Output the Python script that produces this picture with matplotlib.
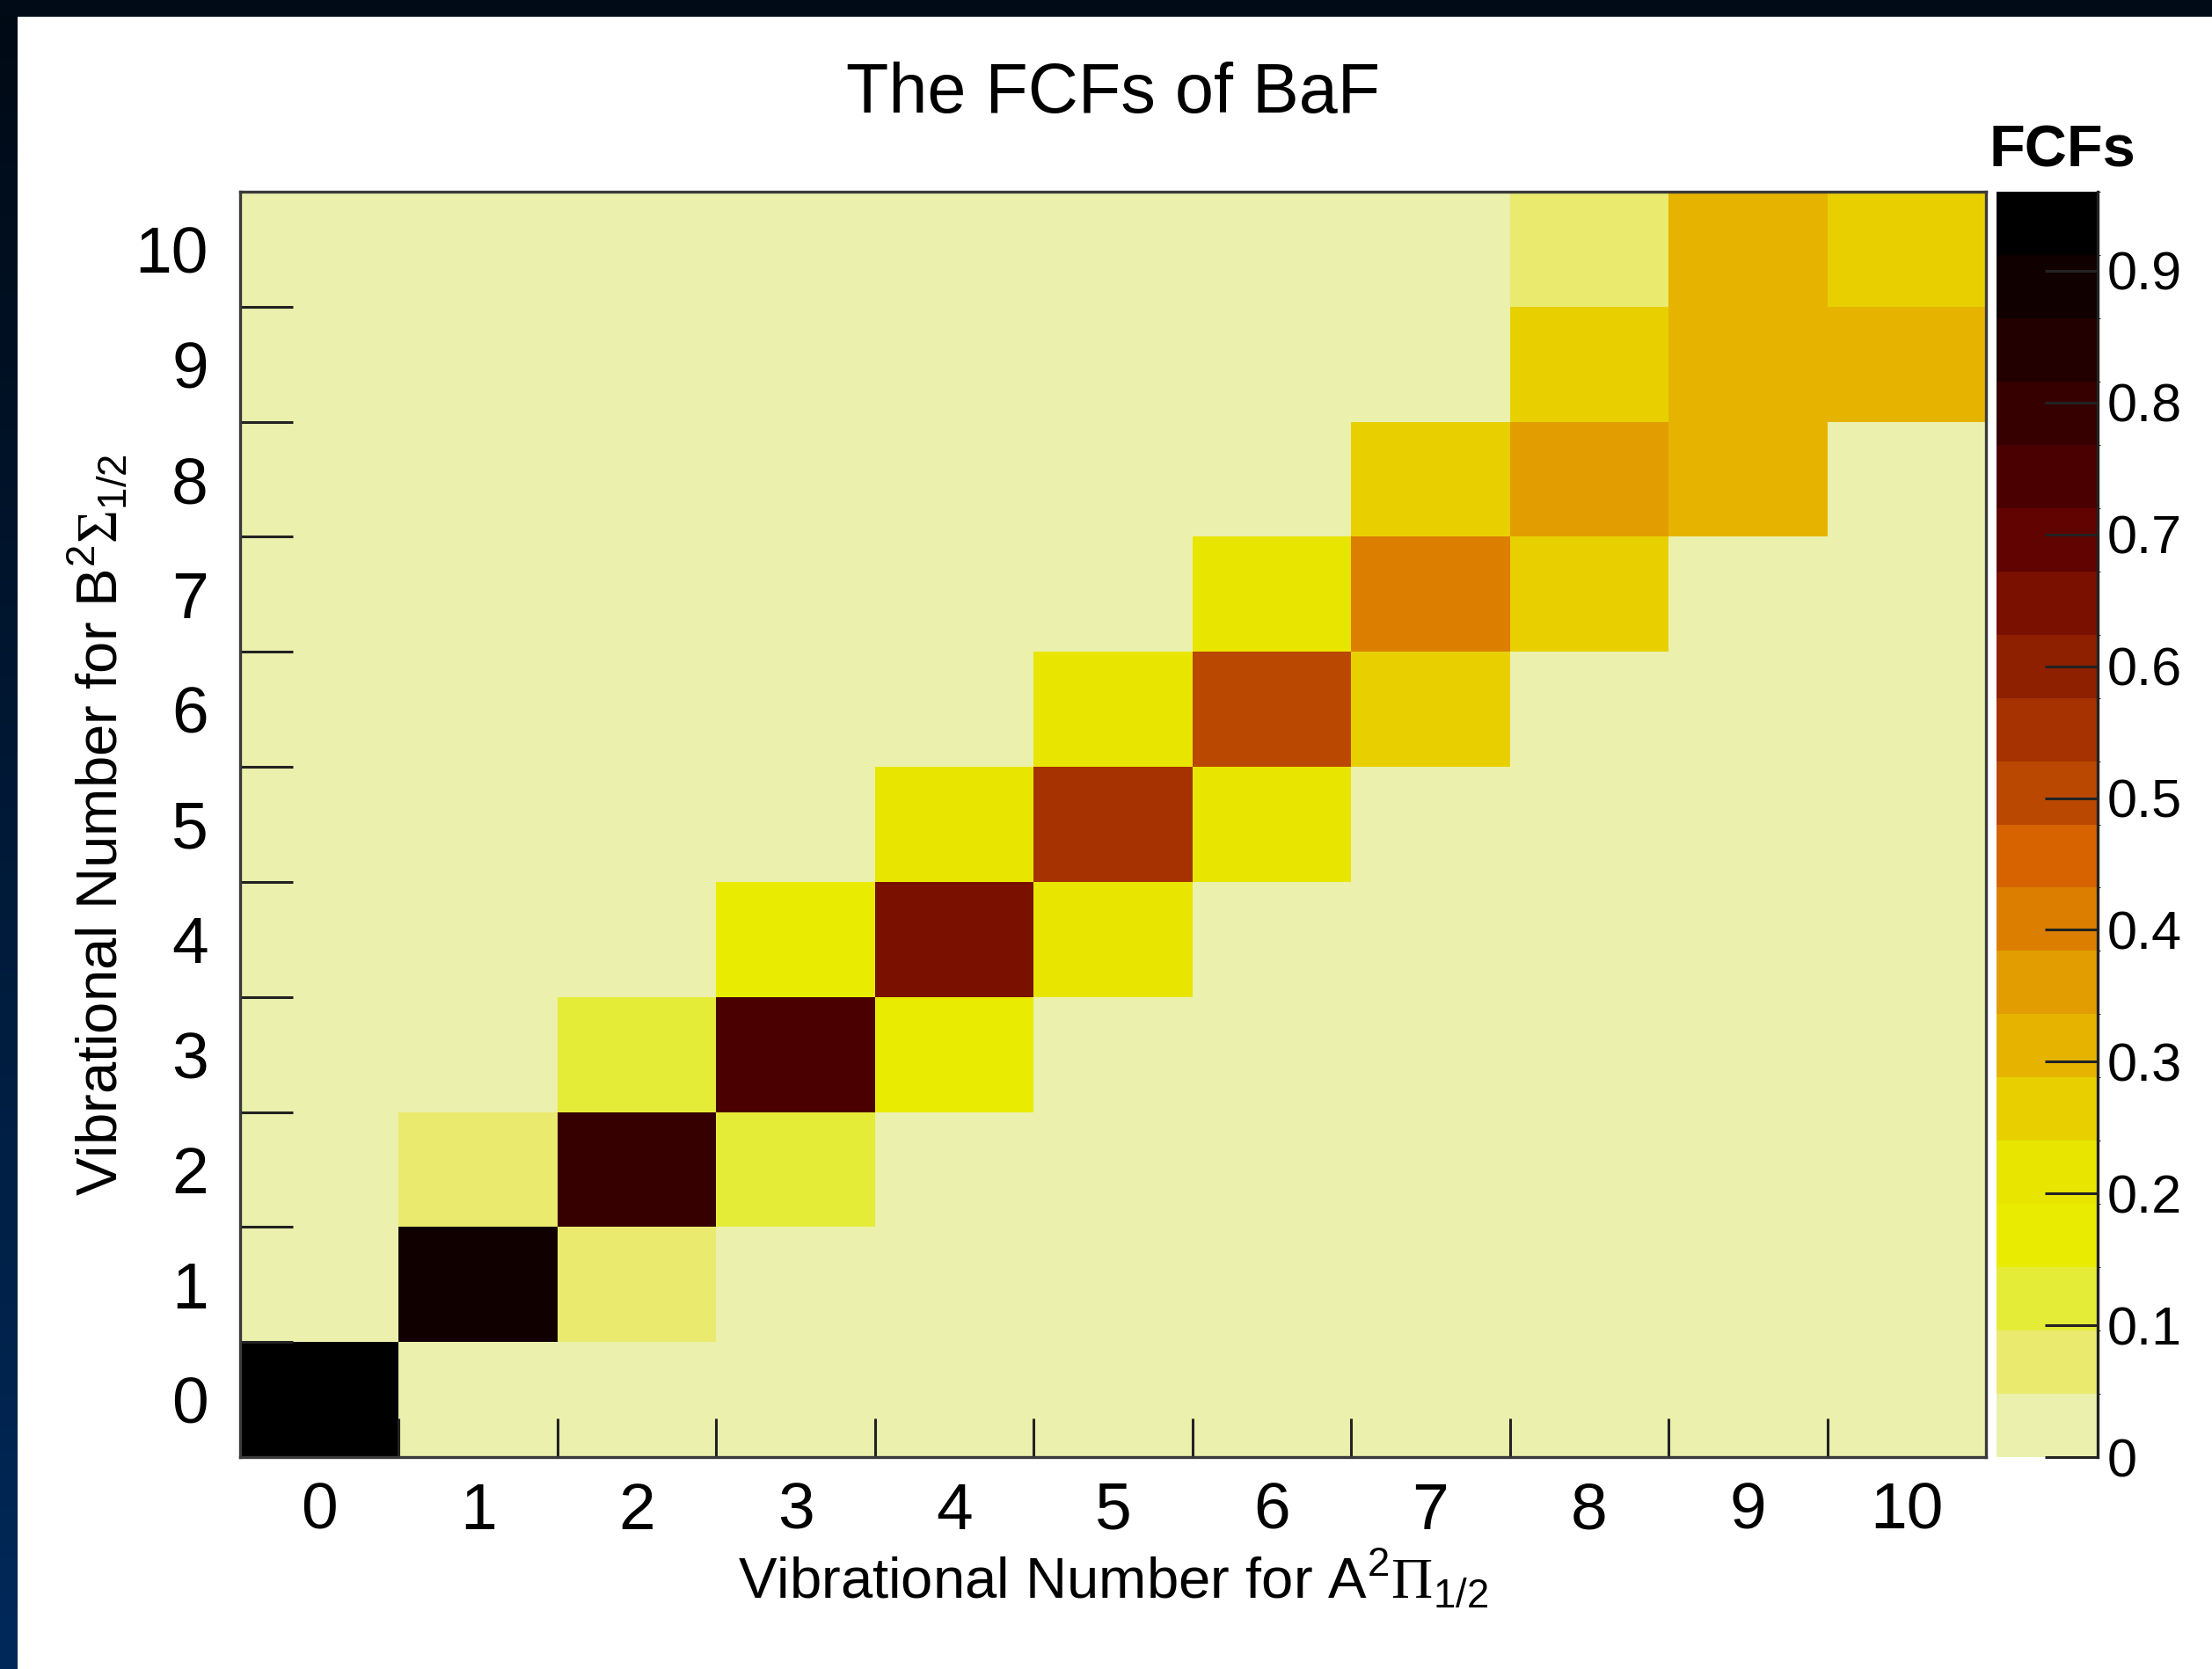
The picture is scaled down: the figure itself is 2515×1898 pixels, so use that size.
import numpy as np
import matplotlib
matplotlib.use("Agg")
import matplotlib.pyplot as plt
from matplotlib.colors import ListedColormap, BoundaryNorm, LinearSegmentedColormap
from matplotlib.ticker import FuncFormatter

plt.rcParams['font.family'] = ['Liberation Sans', 'DejaVu Sans']
plt.rcParams['mathtext.fontset'] = 'custom'
plt.rcParams['mathtext.rm'] = 'Liberation Sans'
plt.rcParams['mathtext.sf'] = 'Liberation Serif'

# vibrational levels of the two electronic states
v_A = list(range(11))   # A^2Pi_1/2, x axis
v_B = list(range(11))   # B^2Sigma_1/2, y axis

# Franck-Condon factors, one row per B-state level (v_B = 0 ... 10)
fcf = [
    [0.96, 0.0, 0.0, 0.0, 0.0, 0.0, 0.0, 0.0, 0.0, 0.0, 0.0],
    [0.0, 0.89, 0.07, 0.0, 0.0, 0.0, 0.0, 0.0, 0.0, 0.0, 0.0],
    [0.0, 0.07, 0.79, 0.12, 0.0, 0.0, 0.0, 0.0, 0.0, 0.0, 0.0],
    [0.0, 0.0, 0.12, 0.745, 0.19, 0.0, 0.0, 0.0, 0.0, 0.0, 0.0],
    [0.0, 0.0, 0.0, 0.19, 0.65, 0.20, 0.0, 0.0, 0.0, 0.0, 0.0],
    [0.0, 0.0, 0.0, 0.0, 0.20, 0.55, 0.21, 0.0, 0.0, 0.0, 0.0],
    [0.0, 0.0, 0.0, 0.0, 0.0, 0.21, 0.50, 0.26, 0.0, 0.0, 0.0],
    [0.0, 0.0, 0.0, 0.0, 0.0, 0.0, 0.22, 0.41, 0.26, 0.0, 0.0],
    [0.0, 0.0, 0.0, 0.0, 0.0, 0.0, 0.0, 0.26, 0.36, 0.31, 0.0],
    [0.0, 0.0, 0.0, 0.0, 0.0, 0.0, 0.0, 0.0, 0.26, 0.31, 0.31],
    [0.0, 0.0, 0.0, 0.0, 0.0, 0.0, 0.0, 0.0, 0.07, 0.31, 0.27],
]

cbar_ticks = [0, 0.1, 0.2, 0.3, 0.4, 0.5, 0.6, 0.7, 0.8, 0.9]

# 20-step palette, light to dark
palette = [
    '#ebf0ac', '#e9ea6e', '#e5ec38', '#e9eb00', '#e8e600',
    '#e8d000', '#e6b400', '#e29d00', '#dc7f00', '#d66300',
    '#ba4800', '#a53200', '#8e2000', '#791000', '#610300',
    '#4b0000', '#360000', '#220000', '#100000', '#000000',
]

W, H = 2515, 1898
fig = plt.figure(figsize=(W / 100, H / 100), dpi=100)
fig.patch.set_facecolor('white')

# dark slide border (top bar + left gradient strip)
bg = fig.add_axes([0, 0, 1, 1], zorder=-10)
bg.axis('off')
grad = LinearSegmentedColormap.from_list('edge', ['#000a15', '#00295a'])
bg.imshow(np.linspace(0, 1, 256).reshape(-1, 1), cmap=grad,
          extent=(0, 20, H, 0), aspect='auto')
bg.add_patch(plt.Rectangle((0, 0), W, 19, color='#000b17', lw=0))
bg.set_xlim(0, W)
bg.set_ylim(H, 0)

fcf = np.array(fcf)
vmax = fcf.max()
cmap = ListedColormap(palette)
norm = BoundaryNorm(np.linspace(0, vmax, len(palette) + 1), cmap.N)

ax = fig.add_axes([273 / W, 1 - 1657 / H, 1985 / W, 1439 / H])
ax.set_facecolor(palette[0])
x_edges = np.arange(len(v_A) + 1) - 0.5
y_edges = np.arange(len(v_B) + 1) - 0.5
mesh = ax.pcolormesh(x_edges, y_edges, fcf, cmap=cmap, norm=norm)
ax.set_xlim(x_edges[0], x_edges[-1])
ax.set_ylim(y_edges[0], y_edges[-1])

# labels at bin centres, tick marks at bin edges
ax.set_xticks(v_A)
ax.set_xticklabels([str(v) for v in v_A])
ax.set_yticks(v_B)
ax.set_yticklabels([str(v) for v in v_B])
ax.set_xticks(x_edges[1:-1], minor=True)
ax.set_yticks(y_edges[1:-1], minor=True)
ax.tick_params(which='major', length=0, labelsize=54)
ax.tick_params(axis='x', which='major', pad=20)
ax.tick_params(axis='y', which='major', pad=26)
ax.tick_params(axis='x', which='minor', direction='in', length=32, width=2.2, color='#222222')
ax.tick_params(axis='y', which='minor', direction='in', length=43, width=2.2, color='#222222')
for sp in ax.spines.values():
    sp.set_color('#3a3a3a')
    sp.set_linewidth(2.4)

fig.text(1266 / W, 1 - 128 / H, 'The FCFs of BaF', fontsize=57,
         ha='center', va='baseline')
fig.text(1266 / W, 1 - 1817 / H, r'Vibrational Number for A$^{2}\mathsf{\Pi}_{1/2}$',
         fontsize=47, ha='center', va='baseline')
fig.text(133 / W, 1 - 938 / H, r'Vibrational Number for B$^{2}\mathsf{\Sigma}_{1/2}$',
         fontsize=47, ha='center', va='baseline', rotation=90, rotation_mode='anchor')

# colour scale
cax = fig.add_axes([2270 / W, 1 - 1657 / H, 115 / W, 1439 / H])
cb = fig.colorbar(mesh, cax=cax, ticks=cbar_ticks)
cb.outline.set_visible(False)
cax.yaxis.set_major_formatter(FuncFormatter(lambda v, _: '0' if v == 0 else f'{v:.1f}'))
cax.tick_params(direction='in', length=43, width=2.2, color='#222222', labelsize=44, pad=8)
cax.plot([1, 1], [0, 1], transform=cax.transAxes, color='#222222', lw=2.4, clip_on=False)
fig.text(2262 / W, 1 - 190 / H, 'FCFs', fontsize=48, fontweight='bold',
         ha='left', va='baseline')

fig.savefig('out.png', dpi=100)
